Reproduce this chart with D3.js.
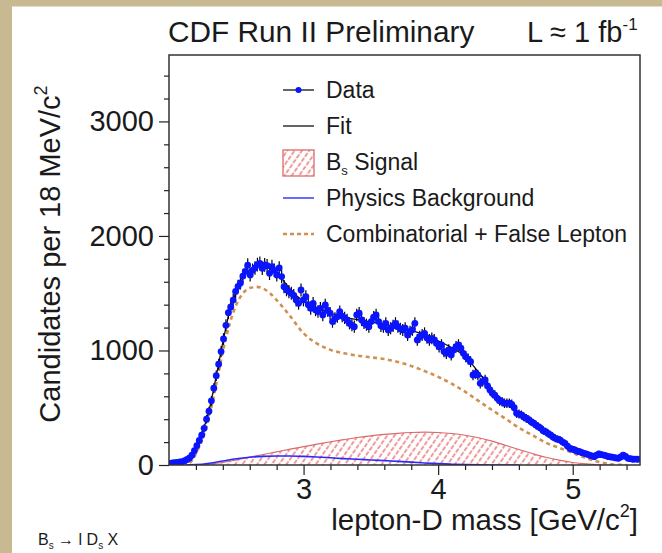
<!DOCTYPE html>
<html>
<head>
<meta charset="utf-8">
<script src="https://cdn.jsdelivr.net/npm/d3@7"></script>
<style>
  html, body { margin: 0; padding: 0; background: #fff; }
  svg { display: block; font-family: "Liberation Sans", Arial, sans-serif; }
</style>
</head>
<body>
<svg id="chart" width="662" height="553"></svg>
<script>
// histogram: 18 MeV bins from 2.0 GeV
const binStart = 2.0;
const binWidth = 0.018;
const dataCounts = [
  15, 18, 20, 22, 26, 30, 38, 48, 62, 85,
  125, 170, 215, 260, 320, 400, 470, 560, 670, 780,
  880, 990, 1100, 1220, 1330, 1380, 1440, 1515, 1560, 1590,
  1650, 1690, 1745, 1660, 1700, 1720, 1750, 1760, 1718, 1747,
  1740, 1674, 1732, 1700, 1660, 1720, 1645, 1557, 1530, 1514,
  1500, 1480, 1440, 1412, 1528, 1441, 1470, 1400, 1368, 1412,
  1354, 1340, 1368, 1310, 1397, 1350, 1325, 1252, 1280, 1295,
  1339, 1300, 1285, 1266, 1237, 1220, 1208, 1310, 1325, 1266,
  1240, 1225, 1208, 1252, 1290, 1310, 1252, 1215, 1208, 1237,
  1179, 1194, 1215, 1237, 1208, 1190, 1179, 1194, 1135, 1164,
  1180, 1237, 1092, 1120, 1135, 1150, 1110, 1092, 1106, 1092,
  1060, 1033, 1048, 990, 975, 1004, 961, 1004, 1033, 1048,
  1020, 975, 946, 925, 902, 786, 800, 786, 713, 730,
  742, 690, 655, 626, 610, 582, 560, 553, 539, 539,
  539, 530, 500, 451, 445, 437, 420, 408, 395, 378,
  365, 349, 335, 320, 300, 291, 275, 262, 245, 233,
  225, 218, 200, 189, 165, 146, 138, 131, 122, 116,
  108, 102, 95, 87, 80, 73, 85, 96, 90, 87,
  80, 73, 70, 67, 62, 58, 70, 87, 75, 58,
  55, 50, 52, 50
];

// fit and its components
const fitMass = [2.0, 2.05, 2.1, 2.15, 2.2, 2.25, 2.3, 2.35, 2.4, 2.45, 2.5, 2.55, 2.6, 2.65, 2.7, 2.75, 2.8, 2.85, 2.9, 2.95,
  3.0, 3.1, 3.2, 3.3, 3.4, 3.5, 3.6, 3.7, 3.8, 3.9, 4.0, 4.1, 4.2, 4.3, 4.4, 4.5, 4.6, 4.7, 4.8, 4.9,
  5.0, 5.1, 5.2, 5.3, 5.4, 5.5];
const fitValues = [12, 18, 28, 55, 150, 290, 490, 770, 1070, 1340, 1520, 1635, 1705, 1735, 1740, 1720, 1680, 1610, 1535, 1475,
  1430, 1370, 1325, 1290, 1270, 1250, 1228, 1205, 1175, 1135, 1085, 1025, 950, 810, 660, 545, 445, 370, 295, 225,
  150, 105, 85, 68, 56, 50];

const combMass = [2.1, 2.15, 2.2, 2.25, 2.3, 2.35, 2.4, 2.45, 2.5, 2.55, 2.6, 2.65, 2.7, 2.75, 2.8, 2.9,
  3.0, 3.1, 3.2, 3.3, 3.4, 3.5, 3.6, 3.7, 3.8, 3.9, 4.0, 4.1, 4.2, 4.3, 4.4, 4.5, 4.6, 4.7, 4.8, 4.9,
  5.0, 5.1, 5.2, 5.3, 5.4];
const combValues = [0, 15, 100, 230, 430, 700, 990, 1230, 1400, 1500, 1545, 1555, 1540, 1500, 1440, 1300,
  1150, 1060, 1005, 975, 955, 940, 925, 900, 865, 820, 770, 710, 640, 560, 480, 405, 325, 260, 195, 150,
  105, 60, 25, 5, 0];

const sigMass = [2.2, 2.3, 2.4, 2.5, 2.6, 2.7, 2.8, 2.9, 3.0, 3.1, 3.2, 3.3, 3.4, 3.5, 3.6, 3.7, 3.8, 3.9,
  4.0, 4.1, 4.2, 4.3, 4.4, 4.5, 4.6, 4.7, 4.8, 4.9, 5.0, 5.1, 5.2, 5.3];
const sigValues = [0, 8, 22, 45, 68, 92, 115, 138, 160, 182, 203, 222, 240, 255, 267, 277, 284, 287,
  284, 275, 260, 238, 208, 172, 135, 100, 68, 42, 22, 9, 2, 0];

const physMass = [2.1, 2.2, 2.3, 2.4, 2.5, 2.6, 2.7, 2.8, 2.9, 3.0, 3.1, 3.2, 3.3, 3.4, 3.5, 3.6, 3.7, 3.8,
  3.9, 4.0, 4.1, 4.2, 4.3, 4.4, 4.6];
const physValues = [0, 3, 15, 35, 55, 68, 75, 78, 78, 75, 70, 63, 56, 50, 44, 38, 32, 25,
  18, 12, 7, 3, 1, 0, 0];

const xMajor = [3, 4, 5];
const xMinor = [2.2, 2.4, 2.6, 2.8, 3.2, 3.4, 3.6, 3.8, 4.2, 4.4, 4.6, 4.8, 5.2, 5.4];
const yMajor = [0, 1000, 2000, 3000];
const yMinor = [200, 400, 600, 800, 1200, 1400, 1600, 1800, 2200, 2400, 2600, 2800, 3200, 3400];

const legendItems = ['Data', 'Fit', 'Signal', 'Physics Background', 'Combinatorial + False Lepton'];

const svg = d3.select('#chart');
const frame = { left: 169, right: 640, top: 55, bottom: 465 };

const x = d3.scaleLinear().domain([2.0, 5.5]).range([frame.left, frame.right]);
const y = d3.scaleLinear().domain([0, 3580]).range([frame.bottom, frame.top]);

const defs = svg.append('defs');

// parchment strips of the slide
const tex = defs.append('filter').attr('id', 'paper').attr('x', 0).attr('y', 0).attr('width', 1).attr('height', 1);
tex.append('feTurbulence').attr('type', 'fractalNoise').attr('baseFrequency', 0.35).attr('numOctaves', 2).attr('seed', 3).attr('result', 'n');
tex.append('feColorMatrix').attr('in', 'n').attr('type', 'matrix')
  .attr('values', '0 0 0 0 0.55  0 0 0 0 0.48  0 0 0 0 0.33  0 0 0 -1.4 0.9').attr('result', 'c');
tex.append('feComposite').attr('in', 'c').attr('in2', 'SourceGraphic').attr('operator', 'atop');

svg.append('rect').attr('x', 0).attr('y', 0).attr('width', 12).attr('height', 553).attr('fill', '#c9b98e').attr('filter', 'url(#paper)');
svg.append('rect').attr('x', 0).attr('y', 0).attr('width', 662).attr('height', 6).attr('fill', '#c9b98e').attr('filter', 'url(#paper)');
svg.append('line').attr('x1', 12).attr('x2', 662).attr('y1', 6.5).attr('y2', 6.5).attr('stroke', '#e4dccb').attr('stroke-width', 1);

defs.append('clipPath').attr('id', 'clip')
  .append('rect')
  .attr('x', frame.left).attr('y', frame.top)
  .attr('width', frame.right - frame.left).attr('height', frame.bottom - frame.top);

const hatch = defs.append('pattern')
  .attr('id', 'hatch')
  .attr('patternUnits', 'userSpaceOnUse')
  .attr('width', 6).attr('height', 6)
  .attr('patternTransform', 'rotate(-55)');
hatch.append('line')
  .attr('x1', 0).attr('y1', 3).attr('x2', 6).attr('y2', 3)
  .attr('stroke', '#e0383a').attr('stroke-width', 1.1)
  .attr('stroke-dasharray', '3.5,1.5');

const plot = svg.append('g').attr('clip-path', 'url(#clip)');

const toPts = (ms, vs) => ms.map((m, i) => [m, vs[i]]);

// Bs signal
const sigPts = toPts(sigMass, sigValues);
plot.append('path')
  .datum(sigPts)
  .attr('d', d3.area().x(d => x(d[0])).y0(y(0)).y1(d => y(d[1])).curve(d3.curveMonotoneX))
  .attr('fill', 'url(#hatch)')
  .attr('stroke', 'none');
plot.append('path')
  .datum(sigPts)
  .attr('d', d3.line().x(d => x(d[0])).y(d => y(d[1])).curve(d3.curveMonotoneX))
  .attr('fill', 'none')
  .attr('stroke', '#dc6a6a')
  .attr('stroke-width', 1.2);

// physics background
plot.append('path')
  .datum(toPts(physMass, physValues))
  .attr('d', d3.line().x(d => x(d[0])).y(d => y(d[1])).curve(d3.curveMonotoneX))
  .attr('fill', 'none')
  .attr('stroke', '#2a2aff')
  .attr('stroke-width', 1.6);

// combinatorial + false lepton
plot.append('path')
  .datum(toPts(combMass, combValues))
  .attr('d', d3.line().x(d => x(d[0])).y(d => y(d[1])).curve(d3.curveMonotoneX))
  .attr('fill', 'none')
  .attr('stroke', '#cf9050')
  .attr('stroke-width', 2.6)
  .attr('stroke-dasharray', '4,3.5');

// total fit
plot.append('path')
  .datum(toPts(fitMass, fitValues))
  .attr('d', d3.line().x(d => x(d[0])).y(d => y(d[1])).curve(d3.curveMonotoneX))
  .attr('fill', 'none')
  .attr('stroke', '#111')
  .attr('stroke-width', 1.3);

// data points with errors
const points = dataCounts.map((n, i) => ({ m: binStart + binWidth * (i + 0.5), n }));
plot.append('g')
  .selectAll('line')
  .data(points)
  .join('line')
  .attr('x1', d => x(d.m)).attr('x2', d => x(d.m))
  .attr('y1', d => y(d.n + Math.sqrt(d.n) + 18))
  .attr('y2', d => y(Math.max(0, d.n - Math.sqrt(d.n) - 18)))
  .attr('stroke', '#000')
  .attr('stroke-width', 1.2);
plot.append('g')
  .selectAll('circle')
  .data(points)
  .join('circle')
  .attr('cx', d => x(d.m))
  .attr('cy', d => y(d.n))
  .attr('r', 3.4)
  .attr('fill', '#0a14ff');

// frame
svg.append('rect')
  .attr('x', frame.left).attr('y', frame.top)
  .attr('width', frame.right - frame.left).attr('height', frame.bottom - frame.top)
  .attr('fill', 'none')
  .attr('stroke', '#333')
  .attr('stroke-width', 1.5);

// axes
function styleAxis(g) {
  g.select('.domain').remove();
  g.selectAll('.tick line').attr('stroke', '#222').attr('stroke-width', 1.2);
  g.selectAll('.tick text')
    .attr('fill', '#1a1a1a')
    .style('font-size', '29px')
    .style('font-family', '"Liberation Sans", Arial, sans-serif');
}

svg.append('g')
  .attr('transform', `translate(0,${frame.bottom})`)
  .call(d3.axisBottom(x).tickValues(xMinor).tickSize(5).tickFormat(''))
  .call(styleAxis);
svg.append('g')
  .attr('transform', `translate(0,${frame.bottom})`)
  .call(d3.axisBottom(x).tickValues(xMajor).tickSize(10).tickPadding(3).tickFormat(d3.format('d')))
  .call(styleAxis);

svg.append('g')
  .attr('transform', `translate(${frame.left},0)`)
  .call(d3.axisLeft(y).tickValues(yMinor).tickSize(5).tickFormat(''))
  .call(styleAxis);
svg.append('g')
  .attr('transform', `translate(${frame.left},0)`)
  .call(d3.axisLeft(y).tickValues(yMajor).tickSize(10).tickPadding(5).tickFormat(d3.format('d')))
  .call(styleAxis);

// titles
const txt = svg.append('g').attr('fill', '#1a1a1a');

txt.append('text')
  .attr('x', 168).attr('y', 42)
  .style('font-size', '29.8px')
  .text('CDF Run II Preliminary');

const lum = txt.append('text')
  .attr('x', 527).attr('y', 42)
  .style('font-size', '29px');
lum.append('tspan').text('L \u2248 1 fb');
lum.append('tspan').attr('dy', -12).style('font-size', '17px').text('-1');

const xl = txt.append('text')
  .attr('x', 638).attr('y', 530)
  .attr('text-anchor', 'end')
  .style('font-size', '29.5px');
xl.append('tspan').text('lepton-D mass [GeV/c');
xl.append('tspan').attr('dy', -13).style('font-size', '18px').text('2');
xl.append('tspan').attr('dy', 13).text(']');

const yl = txt.append('text')
  .attr('transform', 'translate(60,254) rotate(-90)')
  .attr('text-anchor', 'middle')
  .style('font-size', '29px');
yl.append('tspan').text('Candidates per 18 MeV/c');
yl.append('tspan').attr('dy', -13).style('font-size', '18px').text('2');

const dec = txt.append('text')
  .attr('x', 38).attr('y', 545)
  .style('font-size', '16px');
dec.append('tspan').text('B');
dec.append('tspan').attr('dy', 4).style('font-size', '10px').text('s');
dec.append('tspan').attr('dy', -4).text(' \u2192 l D');
dec.append('tspan').attr('dy', 4).style('font-size', '10px').text('s');
dec.append('tspan').attr('dy', -4).text(' X');

// legend
const legend = svg.append('g').attr('transform', 'translate(283,90)');
const rowGap = 36;
const symW = 31;

legendItems.forEach((label, i) => {
  const row = legend.append('g').attr('transform', `translate(0,${i * rowGap})`);
  const t = row.append('text')
    .attr('x', 43).attr('y', 8)
    .attr('fill', '#1a1a1a')
    .style('font-size', '23px');
  if (i === 2) {
    t.append('tspan').text('B');
    t.append('tspan').attr('dy', 5).style('font-size', '13px').text('s');
    t.append('tspan').attr('dy', -5).text(' ' + label);
  } else {
    t.text(label);
  }
  if (i === 0) {
    row.append('line').attr('x1', 0).attr('x2', symW).attr('stroke', '#111').attr('stroke-width', 1.3);
    row.append('circle').attr('cx', symW / 2).attr('r', 3).attr('fill', '#0a14ff');
  } else if (i === 1) {
    row.append('line').attr('x1', 0).attr('x2', symW).attr('stroke', '#111').attr('stroke-width', 1.3);
  } else if (i === 2) {
    row.append('rect').attr('x', 0).attr('y', -12).attr('width', symW).attr('height', 26)
      .attr('fill', 'url(#hatch)').attr('stroke', '#dc6a6a').attr('stroke-width', 1.3);
  } else if (i === 3) {
    row.append('line').attr('x1', 0).attr('x2', symW).attr('stroke', '#2a2aff').attr('stroke-width', 1.4);
  } else {
    row.append('line').attr('x1', 0).attr('x2', symW).attr('stroke', '#cf9050').attr('stroke-width', 2.4)
      .attr('stroke-dasharray', '4,3');
  }
});
</script>
</body>
</html>
